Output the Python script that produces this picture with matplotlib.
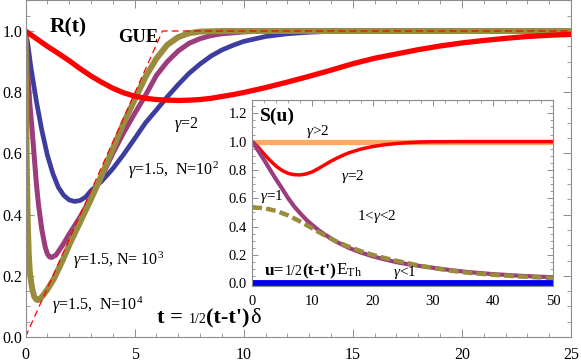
import matplotlib
matplotlib.use('Agg')
import matplotlib.pyplot as plt
from matplotlib.ticker import MultipleLocator

plt.rcParams['font.family'] = ['Liberation Serif', 'DejaVu Serif']
plt.rcParams['mathtext.fontset'] = 'custom'
plt.rcParams['mathtext.rm'] = 'Liberation Serif'
plt.rcParams['mathtext.it'] = 'Liberation Serif:italic'
plt.rcParams['mathtext.bf'] = 'Liberation Serif:bold'
plt.rcParams['lines.scale_dashes'] = False

# ---------------- data: main panel R(t) ----------------
gue_t = [0.0, 6.28, 25.0]
gue_r = [0.0, 1.0, 1.0]

red_t = [0, 0.5, 1, 1.5, 2, 2.5, 3, 3.5, 4, 4.5, 5, 5.5, 6, 6.5, 7, 7.5, 8, 8.5, 9, 9.5,
         10, 11, 12, 13, 14, 15, 16, 17, 18, 19, 20, 21, 22, 23, 24, 25]
red_r = [1.000, 0.975, 0.950, 0.927, 0.903, 0.877, 0.853, 0.832, 0.813, 0.798, 0.787, 0.780,
         0.776, 0.774, 0.773, 0.774, 0.776, 0.780, 0.786, 0.792, 0.799, 0.815, 0.833, 0.852,
         0.872, 0.893, 0.911, 0.925, 0.939, 0.951, 0.961, 0.969, 0.976, 0.982, 0.986, 0.989]

n2_t = [0, 0.1, 0.25, 0.5, 0.75, 1.0, 1.25, 1.5, 1.75, 2.0, 2.25, 2.5, 2.75, 3.0, 3.5, 4.0,
        4.5, 5.0, 5.5, 6.0, 6.5, 7.0, 7.5, 8.0, 8.5, 9.0, 9.5, 10, 11, 12, 13, 14, 25]
n2_r = [1.0, 0.96, 0.88, 0.77, 0.675, 0.595, 0.535, 0.49, 0.463, 0.448, 0.443, 0.446, 0.457,
        0.478, 0.51, 0.55, 0.597, 0.648, 0.70, 0.742, 0.785, 0.825, 0.862, 0.892, 0.918,
        0.938, 0.953, 0.966, 0.982, 0.991, 0.996, 0.999, 1.0]

n3_t = [0, 0.05, 0.1, 0.2, 0.3, 0.4, 0.5, 0.6, 0.75, 0.9, 1.0, 1.1, 1.2, 1.4, 1.7, 2.0, 2.5,
        3.0, 3.5, 4.0, 4.5, 5.0, 5.5, 6.0, 6.5, 7.0, 7.5, 8.0, 8.5, 9.0, 10, 11, 25]
n3_r = [1.0, 0.93, 0.87, 0.76, 0.68, 0.59, 0.50, 0.43, 0.35, 0.295, 0.272, 0.262, 0.26,
        0.268, 0.30, 0.336, 0.392, 0.455, 0.525, 0.60, 0.668, 0.73, 0.79, 0.855, 0.90,
        0.935, 0.96, 0.975, 0.985, 0.991, 0.997, 1.0, 1.0]

n4_t = [0, 0.02, 0.05, 0.1, 0.15, 0.2, 0.3, 0.4, 0.5, 0.6, 0.7, 0.85, 1.0, 1.3, 1.7, 2.0,
        2.5, 3.0, 3.5, 4.0, 4.5, 5.0, 5.5, 6.0, 6.5, 7.0, 7.5, 8.0, 9.0, 25]
n4_r = [1.0, 0.85, 0.60, 0.38, 0.27, 0.21, 0.16, 0.132, 0.122, 0.121, 0.127, 0.14, 0.155,
        0.19, 0.25, 0.30, 0.375, 0.45, 0.53, 0.615, 0.70, 0.775, 0.85, 0.91, 0.955, 0.98,
        0.993, 0.998, 1.0, 1.0]

# ---------------- data: inset S(u) ----------------
ogt2_u = [0, 50]
ogt2_s = [1.0, 1.0]

g2_u = [0, 1, 2, 3, 4, 5, 6, 7, 8, 9, 10, 11, 12, 13, 14, 15, 16, 18, 20, 22, 24, 26, 28,
        30, 35, 50]
g2_s = [1.0, 0.96, 0.91, 0.865, 0.825, 0.795, 0.775, 0.766, 0.765, 0.772, 0.787, 0.81,
        0.835, 0.86, 0.882, 0.902, 0.92, 0.947, 0.965, 0.978, 0.987, 0.993, 0.997, 0.999,
        1.0, 1.0]

g12_u = [0, 1, 2, 3, 4, 5, 6, 7, 8, 9, 10, 11, 12, 14, 16, 18, 20, 22, 24, 26, 28, 30, 33,
         36, 40, 45, 50]
g12_s = [1.0, 0.935, 0.868, 0.798, 0.73, 0.665, 0.598, 0.54, 0.492, 0.447, 0.41, 0.375,
         0.345, 0.292, 0.25, 0.217, 0.19, 0.168, 0.148, 0.133, 0.121, 0.109, 0.092, 0.078,
         0.064, 0.051, 0.042]

g1_u = [0, 2, 4, 6, 8, 10, 12, 14, 16, 18, 20, 22, 24, 26, 28, 30, 33, 36, 40, 45, 50]
g1_s = [0.535, 0.53, 0.51, 0.478, 0.435, 0.387, 0.338, 0.294, 0.258, 0.227, 0.2, 0.178,
        0.158, 0.14, 0.122, 0.108, 0.088, 0.073, 0.059, 0.046, 0.036]

glt1_u = [0, 50]
glt1_s = [0.0, 0.0]

# ---------------- styling ----------------
W, H = 581, 363
C_BLUE = '#3D3DA0'
C_PURP = '#9B3D7C'
C_OLIV = '#998C3D'
C_RED = '#FF0000'
C_ORNG = '#FFAA60'
C_BLUE2 = '#0000F5'
SPINE = '#8C8C8C'

fig = plt.figure(figsize=(W / 100, H / 100), dpi=100)

def px_axes(l, t, r, b):
    return [l / W, 1 - b / H, (r - l) / W, (b - t) / H]

ax = fig.add_axes(px_axes(25.5, 0, 571, 337))
ax.plot(n2_t, n2_r, color=C_BLUE, lw=3.4, solid_capstyle='butt')
ax.plot(n3_t, n3_r, color=C_PURP, lw=3.6, solid_capstyle='butt')
ax.plot(n4_t, n4_r, color=C_OLIV, lw=4.3, solid_capstyle='butt')
ax.plot(red_t, red_r, color=C_RED, lw=3.8, solid_capstyle='butt')
ax.plot(gue_t, gue_r, color=C_RED, lw=0.9, dashes=(5, 3))
ax.set_xlim(0, 25)
ax.set_ylim(0, 337 / 306)
ax.xaxis.set_major_locator(MultipleLocator(5))
ax.xaxis.set_minor_locator(MultipleLocator(1))
ax.yaxis.set_major_locator(MultipleLocator(0.2))
ax.yaxis.set_minor_locator(MultipleLocator(0.05))
ax.set_yticks([0, 0.2, 0.4, 0.6, 0.8, 1.0])
ax.set_yticklabels(['0.0', '0.2', '0.4', '0.6', '0.8', '1.0'])
ax.tick_params(which='both', direction='in', top=True, right=True, color=SPINE,
               labelsize=11.5, labelcolor='black')
ax.tick_params(which='major', length=5.5, width=0.7)
ax.tick_params(which='minor', length=3, width=0.6)
ax.tick_params(axis='x', pad=7)
ax.tick_params(axis='y', pad=2.5)
for s in ax.spines.values():
    s.set_color(SPINE)
    s.set_linewidth(0.8)

# inset
axi = fig.add_axes(px_axes(252.3, 100, 553, 286))
axi.set_facecolor('white')
axi.plot(ogt2_u, ogt2_s, color=C_ORNG, lw=3.8, solid_capstyle='butt')
axi.plot(g2_u, g2_s, color=C_RED, lw=2.5, solid_capstyle='butt')
axi.plot(g12_u, g12_s, color=C_PURP, lw=3.0, solid_capstyle='butt')
axi.plot(g1_u, g1_s, color=C_OLIV, lw=3.2, dashes=(7, 3))
axi.plot(glt1_u, glt1_s, color=C_BLUE2, lw=4.2, solid_capstyle='butt')
axi.set_xlim(0, 50)
axi.set_ylim(-0.02, 1.294)
axi.xaxis.set_major_locator(MultipleLocator(10))
axi.xaxis.set_minor_locator(MultipleLocator(2))
axi.set_yticks([0, 0.2, 0.4, 0.6, 0.8, 1.0, 1.2])
axi.set_yticklabels(['0.0', '0.2', '0.4', '0.6', '0.8', '1.0', '1.2'])
axi.yaxis.set_minor_locator(MultipleLocator(0.05))
axi.tick_params(which='both', direction='in', top=True, right=True, color=SPINE,
                labelsize=10.5, labelcolor='black')
axi.tick_params(which='major', length=4.5, width=0.7)
axi.tick_params(which='minor', length=2.5, width=0.6)
axi.tick_params(axis='x', pad=6.5)
axi.tick_params(axis='y', pad=4)
for s in axi.spines.values():
    s.set_color(SPINE)
    s.set_linewidth(0.8)

def ftext(x, y, s, **kw):
    return fig.text(x / W, 1 - y / H, s, **kw)

# main labels
ftext(68.5, 27, 'R(t)', fontsize=15.5, fontweight='bold', ha='center', va='center')
ftext(138, 37, 'GUE', fontsize=13.3, fontweight='bold', ha='center', va='center')
ftext(186, 125, r'$\gamma$=2', fontsize=11.5, ha='center', va='center')
ftext(128, 170, r'$\gamma$=1.5,  N=10$^{2}$', fontsize=11.5, ha='left', va='center')
ftext(73, 260, r'$\gamma$=1.5, N= 10$^{3}$', fontsize=11.5, ha='left', va='center')
ftext(52, 305, r'$\gamma$=1.5,  N=10$^{4}$', fontsize=11.5, ha='left', va='center')

# inset labels
ftext(277.5, 116.7, 'S(u)', fontsize=14, fontweight='bold', ha='center', va='center')
ftext(317.5, 131.7, r'$\gamma$>2', fontsize=11, ha='center', va='center')
ftext(352.5, 177, r'$\gamma$=2', fontsize=11, ha='center', va='center')
ftext(271.5, 196.7, r'$\gamma$=1', fontsize=11, ha='center', va='center')
ftext(377, 216.7, r'1<$\gamma$<2', fontsize=11, ha='center', va='center')
ftext(405, 272.7, r'$\gamma$<1', fontsize=11, ha='center', va='center')

renderer = fig.canvas.get_renderer()

def rich(x, y, parts):
    for s, kw in parts:
        t = ftext(x, y, s, ha='left', va='baseline', **kw)
        bb = t.get_window_extent(renderer=renderer)
        x += bb.width

rich(157, 323, [('t = ', dict(fontsize=16, fontweight='bold')),
                ('1/2', dict(fontsize=10)),
                ('(t-t\')', dict(fontsize=16, fontweight='bold')),
                ('δ', dict(fontsize=16))])
rich(265, 275, [('u=', dict(fontsize=12.5, fontweight='bold')),
                ('1/2', dict(fontsize=10)),
                ('(t-t\')', dict(fontsize=12.5, fontweight='bold')),
                (r'E$_{\mathrm{Th}}$', dict(fontsize=12.5))])

fig.savefig('out.png', dpi=100)
